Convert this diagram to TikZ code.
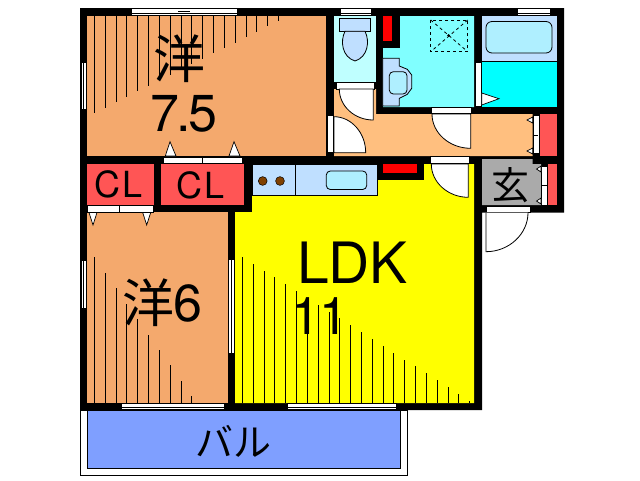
\documentclass[tikz,border=0pt]{standalone}
\usepackage{fontspec}
\setmainfont{TeX Gyre Heros}
\newfontfamily\cjk{Noto Sans CJK JP}
\definecolor{roomwood}{HTML}{F4A96D}
\definecolor{hallwood}{HTML}{FFBF7F}
\definecolor{wetroom}{HTML}{80FFFF}
\definecolor{toiletroom}{HTML}{BFFFFF}
\definecolor{fixture}{HTML}{BFDFFF}
\definecolor{basin}{HTML}{AFEFFF}
\definecolor{closet}{HTML}{FF5555}
\definecolor{balcony}{HTML}{7F9FFF}
\definecolor{burner}{HTML}{804000}
\definecolor{ldkfloor}{HTML}{FFFF00}
\definecolor{bathfloor}{HTML}{00FFFF}
\definecolor{shelf}{HTML}{FF0000}
\definecolor{porch}{HTML}{AAAAAA}
\begin{document}
\begin{tikzpicture}[x=1pt,y=-1pt,
wall/.style={fill=black},
strip/.style={fill=white,draw=black,line width=0.7pt},
door/.style={fill=white,draw=black,line width=0.8pt},
fold/.style={fill=white,draw=black,line width=0.7pt},
hatch/.style={draw=black,line width=0.8pt},
outline/.style={draw=black,line width=0.8pt},
label/.style={inner sep=0pt,text=black},
latin/.style={label,font=\fontsize{#1}{#1}\selectfont},
kana/.style={label,font=\fontsize{#1}{#1}\cjk}]
    \useasboundingbox (0,0) rectangle (640,480);
    \fill[white] (0,0) rectangle (640,480);
    % balcony
    \draw[outline,fill=white] (80.5,410) rectangle (407.5,475.5);
    \draw[outline,fill=balcony] (87,410) rectangle (400.5,468);
    % walls, rooms go on top
    \fill[wall] (80,8) -- (564,8) -- (564,212.5) -- (482,212.5) -- (482,410) -- (80,410) -- cycle;
    \fill[roomwood] (87,16) rectangle (326,156);
    \fill[roomwood] (87,212) rectangle (228,403);
    \fill[ldkfloor] (235,212) -- (252,212) -- (252,195) -- (377,195) -- (377,180) -- (424,180) -- (424,164) -- (474,164) -- (474,403) -- (235,403) -- cycle;
    \fill[closet] (87,164) rectangle (154,205);
    \fill[closet] (161,164) rectangle (244,205);
    \fill[closet] (540,114) rectangle (557,156);
    \fill[closet] (547.7,164) rectangle (557,205);
    \fill[hallwood] (334,89) -- (376,89) -- (376,114) -- (532.7,114) -- (532.7,156) -- (334,156) -- cycle;
    \fill[porch] (482,159) -- (532.7,159) -- (532.7,164) -- (541,164) -- (541,205) -- (482,205) -- cycle;
    \fill[toiletroom] (334,16) rectangle (376,82);
    \fill[wetroom] (400,16) -- (474,16) -- (474,107) -- (383,107) -- (383,48) -- (400,48) -- cycle;
    \fill[shelf] (383,16) rectangle (392,41);
    \fill[fixture] (482,16) rectangle (557,61);
    \fill[bathfloor] (482,61) rectangle (557,107);
    \draw[outline] (482,61.5) -- (557,61.5);
    % hatching of the floors
    \foreach \hx/\hy in {94.3/112.7,105.3/108,116.3/102,126.3/97,137.3/91,148.3/86,159.3/80,170.3/75,181.3/70,191.3/64,202.3/59,213.3/53,224.3/48,235.3/43,246.3/37,256.3/32,267.3/26,278.3/21}
        \draw[hatch] (\hx,16) -- (\hx,\hy);
    \foreach \hx/\hy in {94.3/257,105.3/273,116.3/288,126.3/304,137.3/319,148.3/335,159.3/350,170.3/365,181.3/381,191.3/396}
        \draw[hatch] (\hx,\hy) -- (\hx,403);
    \foreach \hx/\hy in {242.3/257,253.3/264,264.3/271,274.3/277,285.3/284,296.3/291,307.3/298,318.3/305,329.3/312,339.3/318,350.3/325,361.3/332,372.3/339,383.3/346,393.3/353,404.3/360,415.3/366,426.3/373,437.3/380,448.3/387,458.3/394,469.3/401}
        \draw[hatch] (\hx,\hy) -- (\hx,403);
    % windows
    \foreach \xa/\xb/\ya/\yb in {131/237/8.3/15.7,340/371/8.3/15.7,517/550/8.3/15.7,121/224/403.3/409.5,287/396/403.3/409.5}{
        \draw[strip] (\xa,\ya) rectangle (\xb,\yb);
        \draw[outline] (\xa,\yb-2) -- (\xb,\yb-2);
    }
    \foreach \xa/\xb/\ya/\yb in {81/86.5/62.7/109.7,81/86.5/260/308,228.5/234.5/259/353}{
        \draw[strip] (\xa,\ya) rectangle (\xb,\yb);
    }
    \draw[outline] (178,11) -- (190,11);
    \draw[outline] (83.5,62.7) -- (83.5,109.7);
    \draw[outline] (83.5,260) -- (83.5,308);
    \draw[outline] (231.5,259) -- (231.5,353);
    % closet doors
    \draw[strip] (163,157) rectangle (242,163.5);
    \draw[outline] (202.6,157) -- (202.6,163.5);
    \draw[strip] (87,205.5) rectangle (153,212);
    \draw[outline] (119.6,205.5) -- (119.6,212);
    \draw[fold] (165.3,156) -- (170,141.7) -- (176,156) -- cycle;
    \draw[fold] (229,156) -- (234,141.7) -- (240,156) -- cycle;
    \draw[fold] (89,212.5) -- (93,225) -- (97,212.5) -- cycle;
    \draw[fold] (142.7,212.5) -- (146.7,225) -- (150.7,212.5) -- cycle;
    % doors
    \draw[strip] (336.7,82.5) rectangle (374,89);
    \draw[door] (373.3,89) -- (339.3,89) .. controls (339.3,106.2) and (354.6,120) .. (373.3,120) -- cycle;
    \draw[strip] (327,115) rectangle (333,152.7);
    \draw[door] (334,152.7) -- (334,116.7) .. controls (351.4,116.7) and (365.7,132.9) .. (365.7,152.7) -- cycle;
    \draw[strip] (431,107.5) rectangle (471,113.7);
    \draw[door] (470.7,114) -- (432,114) .. controls (432,132.9) and (449.4,148.3) .. (470.7,148.3) -- cycle;
    \draw[strip] (430,156.5) rectangle (469,163.7);
    \draw[door] (468.3,164) -- (431.3,164) .. controls (431.3,182.3) and (448,197.3) .. (468.3,197.3) -- cycle;
    \draw[strip] (486,206) rectangle (530,212.5);
    \draw[door] (486,212.7) -- (486,251.7) .. controls (509,251.7) and (528,234) .. (528,212.7);
    % folding doors on the right
    \draw[strip] (533,115) rectangle (539.5,153);
    \draw[outline] (534,135.3) -- (538,135.3);
    \draw[fold] (532.7,117) -- (527,120) -- (532.7,123) -- cycle;
    \draw[fold] (532.7,148) -- (527,151) -- (532.7,154) -- cycle;
    \draw[strip] (541,166) rectangle (547.3,205);
    \draw[outline] (541.7,185) -- (546.7,185);
    \draw[fold] (541,166) -- (536.5,169) -- (541,172) -- cycle;
    \draw[fold] (541,198) -- (536.5,201) -- (541,204) -- cycle;
    % bath room
    \draw[strip] (475,62) rectangle (481,106);
    \draw[fold] (481.7,93) -- (499,98.7) -- (481.7,105) -- cycle;
    \draw[outline,fill=basin,rounded corners=6pt] (486,21.5) rectangle (552,53);
    \draw[dashed,line width=0.8pt] (430.7,20) rectangle (467.7,51.7);
    \draw[dashed,line width=0.8pt] (430.7,20) -- (467.7,51.7);
    \draw[dashed,line width=0.8pt] (467.7,20) -- (430.7,51.7);
    \fill[black] (448.7,35.5) circle (1.5);
    \draw[outline,fill=fixture] (382.7,58.3) -- (399.3,58.3) -- (399.3,66) -- (407.3,69.3) -- (411.7,75) -- (411.7,88.3) -- (407.3,94.3) -- (399.3,98.3) -- (399.3,106) -- (382.7,106) -- cycle;
    \draw[outline,fill=basin,rounded corners=4pt] (389.3,71.7) rectangle (407,94);
    % toilet
    \draw[outline,fill=fixture] (339.3,18.3) rectangle (370.7,31.3);
    \draw[outline,fill=fixture] (345,31.3) .. controls (340,41) and (342,57) .. (355,61) .. controls (368,57) and (370,41) .. (365,31.3) -- cycle;
    % kitchen
    \draw[outline,fill=fixture] (252,164) rectangle (377.5,195);
    \draw[outline] (295.3,164) -- (295.3,195);
    \fill[wall] (377,164) rectangle (424,180);
    \fill[shelf] (383,164) rectangle (417,173);
    \draw[outline,fill=basin,rounded corners=4pt] (326.3,171) rectangle (366.7,189.5);
    \draw[fill=burner,line width=0.5pt] (262.7,181) circle (4.4);
    \draw[fill=burner,line width=0.5pt] (280,181) circle (4.4);
    % labels
    \node[kana=52] (western1) at (179,59) {洋};
    \node[latin=52] (western1size) at (184,114) {7\kern-3pt.\kern-3pt 5};
    \node[latin=36] (closet1) at (119,184) {C\kern2pt L};
    \node[latin=36] (closet2) at (201,185) {C\kern2pt L};
    \node[kana=52] (western2) at (148,303) {洋};
    \node[latin=52] (western2size) at (187.5,303) {6};
    \node[latin=57] (ldk) at (352.5,263) {LDK};
    \node[latin=52] (ldksize) at (319.5,316) {1\kern-1pt 1};
    \node[kana=38] (entrance) at (510,185) {玄};
    \node[kana=38] (veranda) at (233,441) {バル};
\end{tikzpicture}
\end{document}
